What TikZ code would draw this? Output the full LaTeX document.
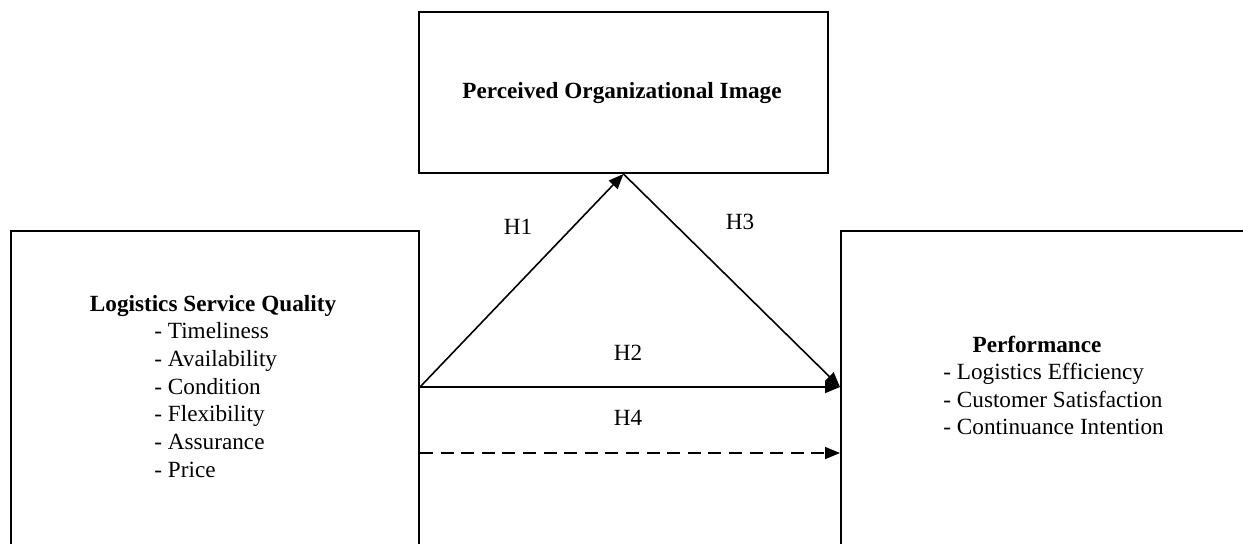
\documentclass[tikz,border=0pt]{standalone}
\usepackage{fontspec}
\setmainfont{Liberation Serif}
\usetikzlibrary{arrows.meta,positioning}
\tikzset{
  box/.style = {draw, line width=1pt, rectangle, inner sep=0pt},
  path/.style = {line width=0.8pt},
  hyp/.style = {inner sep=1pt},
  >={Triangle[length=7.5pt,width=6pt]}
}

\begin{document}
\begin{tikzpicture}[x=0.5pt,y=-0.5pt,font=\fontsize{11.6}{14}\selectfont]
  \useasboundingbox (0,0) rectangle (1243,543);
  \clip (0,0) rectangle (1243,543);
  %
  \node[box,anchor=north west,minimum width=204pt,minimum height=180pt] (lsq) at (10,230) {};
  \node[box,anchor=north west,minimum width=204.5pt,minimum height=80.5pt] (poi) at (418,11) {};
  \node[box,anchor=north west,minimum width=250pt,minimum height=180pt] (perf) at (840,230) {};
  %
  \node[anchor=base] (poititle) at (622,98) {\textbf{Perceived Organizational Image}};
  %
  \node[anchor=base] (lsqtitle) at (213,311) {\textbf{Logistics Service Quality}};
  \foreach \dim [count=\i] in {Timeliness,Availability,Condition,Flexibility,Assurance,Price}
    \node[anchor=base west,inner sep=0pt] (lsq-\i) at (154,{311+27.7*\i}) {- \dim};
  %
  \node[anchor=base] (perftitle) at (1037,352) {\textbf{Performance}};
  \foreach \dim [count=\i] in {Logistics Efficiency,Customer Satisfaction,Continuance Intention}
    \node[anchor=base west,inner sep=0pt] (perf-\i) at (943,{352+27.5*\i}) {- \dim};
  %
  \coordinate (lsqout) at ([yshift=-78.5pt]lsq.north east);
  \coordinate (perfin) at ([yshift=-78.5pt]perf.north west);
  \coordinate (lsqout2) at ([yshift=-111.5pt]lsq.north east);
  \coordinate (perfin2) at ([yshift=-111.5pt]perf.north west);
  %
  \draw[path,->] (lsqout) -- (poi.south);
  \draw[path,->] (poi.south) -- (perfin);
  \draw[path,->] (lsqout) -- (perfin);
  \draw[path,->,dash pattern=on 6.5pt off 3.8pt] (lsqout2) -- (perfin2);
  %
  \node[hyp] (h1) at (518,227) {H1};
  \node[hyp] (h3) at (740,222) {H3};
  \node[hyp] (h2) at (628,353) {H2};
  \node[hyp] (h4) at (628,418) {H4};
\end{tikzpicture}
\end{document}
